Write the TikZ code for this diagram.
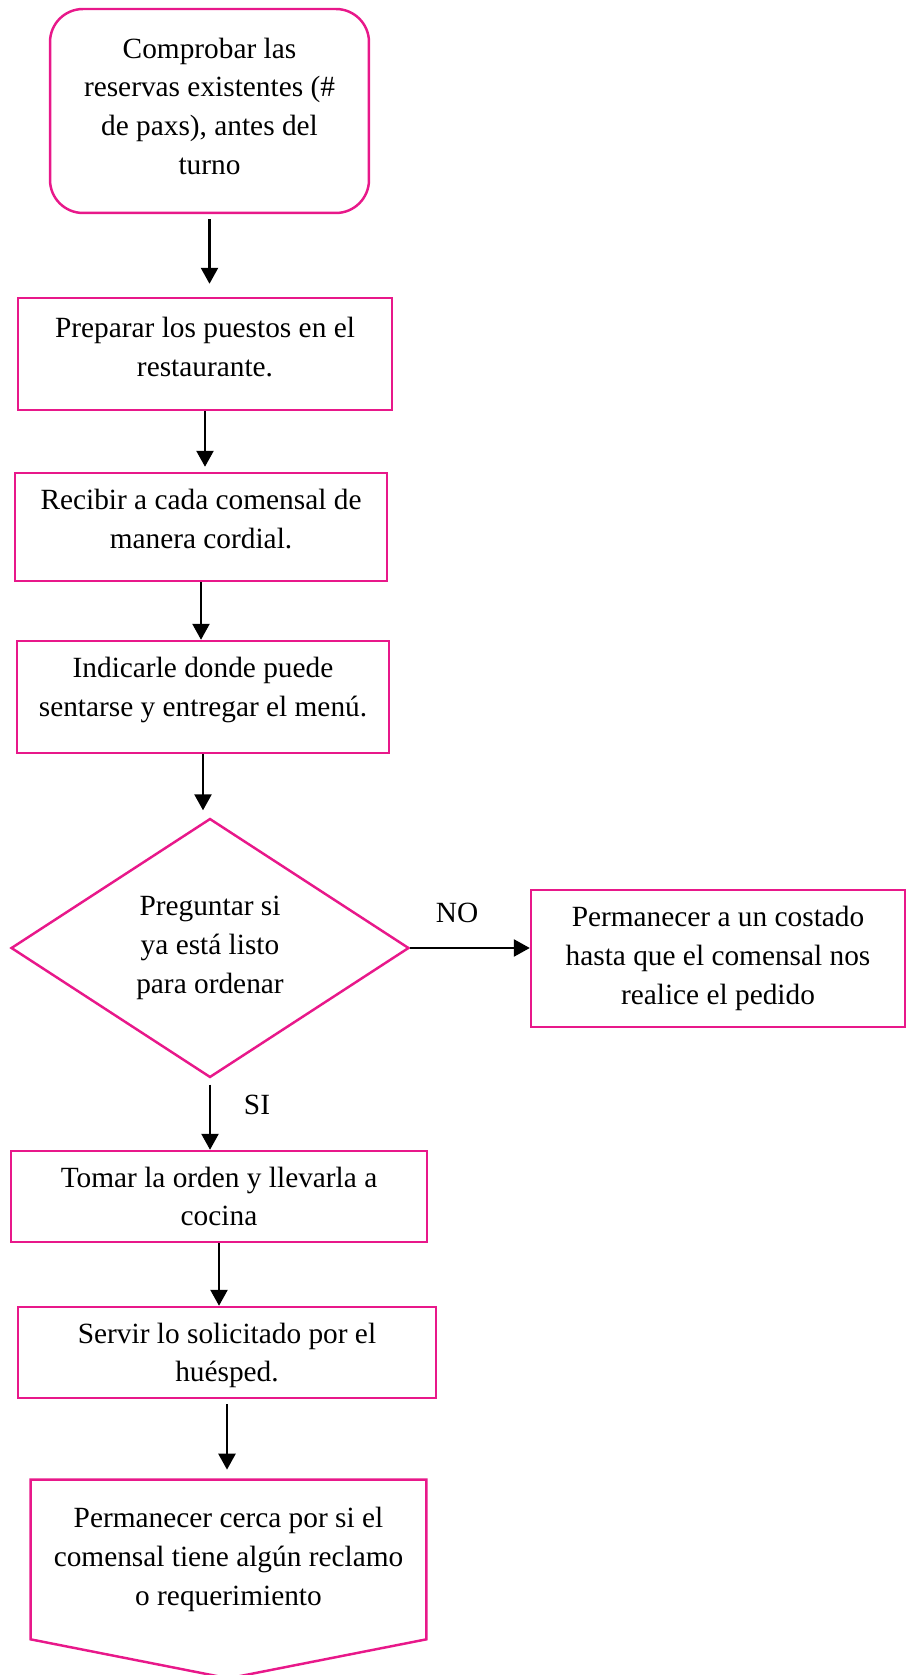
\documentclass[tikz,border=0pt]{standalone}
\usepackage{fontspec}
\setmainfont{Liberation Serif}
\usetikzlibrary{arrows.meta,shapes.geometric}
\definecolor{rosa}{RGB}{232,24,138}

\begin{document}
\begin{tikzpicture}[x=0.02cm,y=-0.02cm,
  font=\fontsize{16.7}{22}\selectfont,
  caja/.style={draw=rosa, line width=1.4pt, inner sep=0pt},
  texto/.style={align=center, inner sep=0pt},
  flecha/.style={line width=1.4pt, -{Triangle[length=3.2mm,width=3.4mm]}}]
  \useasboundingbox (0,0) rectangle (908,1675);
  % cajas del proceso
  \node [caja, rounded corners=0.66cm, minimum width=6.38cm, minimum height=4.08cm,
    label={[texto, yshift=0.1cm]center:{Comprobar las\\reservas existentes (\#\\de paxs), antes del\\turno}}]
    (inicio) at (209.5,111) {};
  \node [caja, minimum width=7.48cm, minimum height=2.24cm,
    label={[texto, yshift=0.14cm]center:{Preparar los puestos en el\\restaurante.}}]
    (preparar) at (205,354) {};
  \node [caja, minimum width=7.44cm, minimum height=2.16cm,
    label={[texto, yshift=0.16cm]center:{Recibir a cada comensal de\\manera cordial.}}]
    (recibir) at (201,527) {};
  \node [caja, minimum width=7.44cm, minimum height=2.24cm,
    label={[texto, yshift=0.14cm]center:{Indicarle donde puede\\sentarse y entregar el menú.}}]
    (indicar) at (203,697) {};
  \node [caja, diamond, aspect=1.54, minimum width=7.96cm, minimum height=5.18cm,
    label={[texto]center:{Preguntar si\\ya está listo\\para ordenar}}]
    (pregunta) at (210,948) {};
  \node [caja, minimum width=7.48cm, minimum height=2.74cm,
    label={[texto]center:{Permanecer a un costado\\hasta que el comensal nos\\realice el pedido}}]
    (esperar) at (718,958.5) {};
  \node [caja, minimum width=8.32cm, minimum height=1.82cm,
    label={[texto]center:{Tomar la orden y llevarla a\\cocina}}]
    (tomar) at (219,1196.5) {};
  \node [caja, minimum width=8.36cm, minimum height=1.82cm,
    label={[texto, yshift=-0.06cm]center:{Servir lo solicitado por el\\huésped.}}]
    (servir) at (227,1352.5) {};
  \node [texto, minimum width=7.9cm, minimum height=3.18cm] (final) at (228.5,1559.5)
    {Permanecer cerca por si el\\comensal tiene algún reclamo\\o requerimiento};
  \draw [rosa, line width=1.4pt, line join=miter] (final.north west) -- (final.north east) -- (final.south east)
    -- ([yshift=-0.78cm]final.south) -- (final.south west) -- cycle;

  % flechas
  \draw [flecha, shorten <=1mm, shorten >=2.6mm] (inicio.south) -- (inicio.south |- preparar.north);
  \draw [flecha, shorten >=1mm] (preparar.south) -- (preparar.south |- recibir.north);
  \draw [flecha] (recibir.south) -- (recibir.south |- indicar.north);
  \draw [flecha, shorten >=1.4mm] (indicar.south) -- (indicar.south |- pregunta.north);
  \draw [flecha] (pregunta.east) -- (pregunta.east -| esperar.west);
  \draw [flecha, shorten <=1.2mm] (pregunta.south) -- (pregunta.south |- tomar.north);
  \draw [flecha] (tomar.south) -- (tomar.south |- servir.north);
  \draw [flecha, shorten <=1mm, shorten >=2mm] (servir.south) -- (servir.south |- final.north);

  % etiquetas de las salidas
  \node (no) at (457,913) {NO};
  \node (si) at (257,1105) {SI};
\end{tikzpicture}
\end{document}
